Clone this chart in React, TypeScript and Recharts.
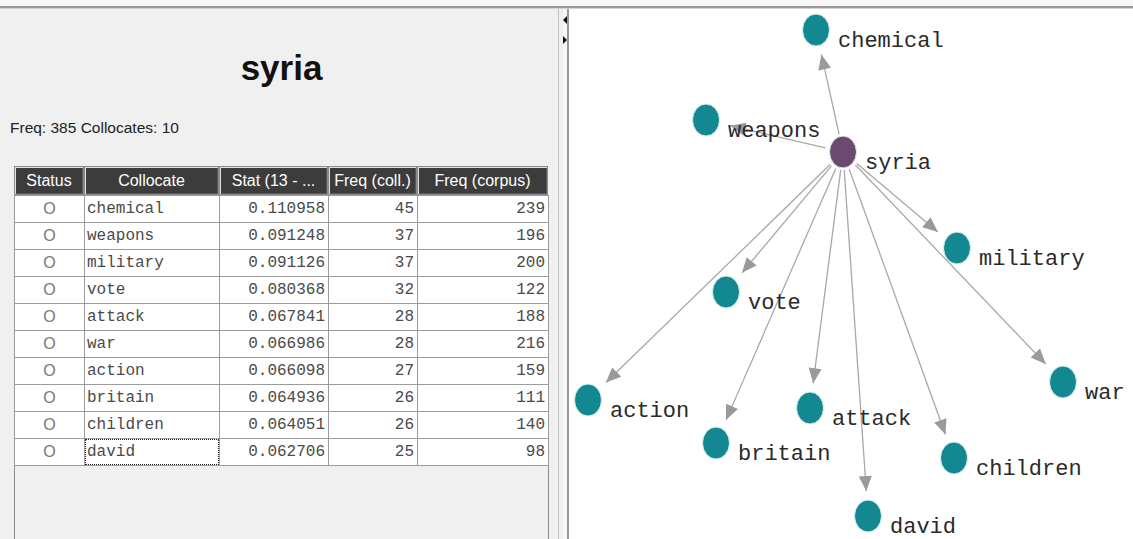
import React from 'react';
import { ScatterChart, Scatter, XAxis, YAxis } from 'recharts';

// ---------- table data ----------
const collocates = ['chemical', 'weapons', 'military', 'vote', 'attack', 'war', 'action', 'britain', 'children', 'david'];
const statValues = [0.110958, 0.091248, 0.091126, 0.080368, 0.067841, 0.066986, 0.066098, 0.064936, 0.064051, 0.062706];
const freqColl = [45, 37, 37, 32, 28, 28, 27, 26, 26, 25];
const freqCorpus = [239, 196, 200, 122, 188, 216, 159, 111, 140, 98];
const headers = ['Status', 'Collocate', 'Stat (13 - ...', 'Freq (coll.)', 'Freq (corpus)'];
const nodeWord = 'syria';
const wordFreq = 385;

// ---------- network layout data (graph coordinates) ----------
const hubX = 274;
const hubY = 143;
const nodeX = [247, 137, 388, 157, 241, 494, 19, 147, 385, 299];
const nodeY = [21, 111, 239, 283, 399, 373, 391, 434, 449, 507];

// ---------- styles ----------
const colEdges = [14, 84, 219, 328, 417, 548];
const headerTop = 166;
const headerH = 29;
const rowTop = 195;
const rowH = 27;
const TEAL = '#138891';
const PURPLE = '#6c4a70';
const monoFont = '"Courier New", "Liberation Mono", monospace';
const sansFont = '"Liberation Sans", Arial, sans-serif';

const W = 564;
const H = 530;

const nodes = [
  { name: nodeWord, x: hubX, y: hubY, hub: true },
  ...collocates.map((c, i) => ({ name: c, x: nodeX[i], y: nodeY[i], hub: false })),
];

const START_OFF = 18;
const TIP_OFF = 25;
const edges = collocates.map((c, i) => {
  const dx = nodeX[i] - hubX;
  const dy = nodeY[i] - hubY;
  const len = Math.sqrt(dx * dx + dy * dy);
  const ux = dx / len;
  const uy = dy / len;
  return {
    name: c,
    start: { x: hubX + ux * START_OFF, y: hubY + uy * START_OFF },
    tip: { x: nodeX[i] - ux * TIP_OFF, y: nodeY[i] - uy * TIP_OFF, angle: (Math.atan2(dy, dx) * 180) / Math.PI },
  };
});
const tips = edges.map((e) => e.tip);

const EmptyShape = () => <g />;

const ArrowShape = (props: any) => {
  const { cx, cy, payload } = props;
  return (
    <polygon
      points="0,0 -15,-6.5 -15,6.5"
      fill="#9a9a9a"
      transform={`translate(${cx},${cy}) rotate(${payload.angle})`}
    />
  );
};

const NodeShape = (props: any) => {
  const { cx, cy, payload } = props;
  return (
    <ellipse cx={cx} cy={cy} rx={13.5} ry={16} fill={payload.hub ? PURPLE : TEAL} stroke="#d6f2f4" strokeWidth={1} />
  );
};

const LabelShape = (props: any) => {
  const { cx, cy, payload } = props;
  return (
    <text x={cx + 22} y={cy + 17} fontFamily={monoFont} fontSize={22} fill="#2a2a2a">
      {payload.name}
    </text>
  );
};

function Network() {
  return (
    <ScatterChart width={W} height={H} margin={{ top: 0, right: 0, bottom: 0, left: 0 }}>
      <XAxis type="number" dataKey="x" domain={[0, W]} allowDataOverflow hide />
      <YAxis type="number" dataKey="y" domain={[0, H]} allowDataOverflow reversed hide />
      {edges.map((e) => (
        <Scatter
          key={`edge-${e.name}`}
          data={[e.start, e.tip]}
          line={{ stroke: '#a8a8a8', strokeWidth: 1.3 }}
          shape={EmptyShape}
          isAnimationActive={false}
          legendType="none"
        />
      ))}
      <Scatter data={tips} shape={ArrowShape} isAnimationActive={false} legendType="none" />
      <Scatter data={nodes} shape={NodeShape} isAnimationActive={false} legendType="none" />
      <Scatter data={nodes} shape={LabelShape} isAnimationActive={false} legendType="none" />
    </ScatterChart>
  );
}

function Table() {
  const cells: React.ReactNode[] = [];
  headers.forEach((h, c) => {
    cells.push(
      <div
        key={`h${c}`}
        style={{
          position: 'absolute',
          left: colEdges[c],
          top: headerTop,
          width: colEdges[c + 1] - colEdges[c],
          height: headerH,
          boxSizing: 'border-box',
          background: '#3c3c3c',
          border: '1px solid #8a8a8a',
          boxShadow: 'inset 1px 1px 0 #e0e0e0, inset -1px -1px 0 #5a5a5a',
          color: '#ffffff',
          fontFamily: sansFont,
          fontSize: 16,
          lineHeight: `${headerH - 2}px`,
          textAlign: 'center',
          whiteSpace: 'nowrap',
          overflow: 'hidden',
        }}
      >
        {h}
      </div>
    );
  });
  collocates.forEach((c, r) => {
    const top = rowTop + r * rowH;
    const vals: string[] = ['O', c, statValues[r].toFixed(6), String(freqColl[r]), String(freqCorpus[r])];
    vals.forEach((v, k) => {
      const isFocus = r === collocates.length - 1 && k === 1;
      cells.push(
        <div
          key={`r${r}c${k}`}
          style={{
            position: 'absolute',
            left: colEdges[k],
            top,
            width: colEdges[k + 1] - colEdges[k] + 1,
            height: rowH + 1,
            boxSizing: 'border-box',
            background: '#ffffff',
            border: '1px solid #9c9c9c',
            color: k === 0 ? '#777' : '#4a4a4a',
            fontFamily: k === 0 ? sansFont : monoFont,
            fontSize: 16,
            lineHeight: `${rowH - 1}px`,
            textAlign: k === 0 ? 'center' : k === 1 ? 'left' : 'right',
            paddingLeft: k === 1 ? 2 : 0,
            paddingRight: k >= 2 ? 3 : 0,
            whiteSpace: 'nowrap',
            outline: isFocus ? '1px dotted #222' : 'none',
            outlineOffset: isFocus ? -2 : 0,
          }}
        >
          {v}
        </div>
      );
    });
  });
  return <>{cells}</>;
}

export default function App() {
  const bodyBottom = rowTop + collocates.length * rowH;
  return (
    <div style={{ position: 'absolute', left: 0, top: 0, width: 1133, height: 539, background: '#f7f7f7', overflow: 'hidden' }}>
      {/* top rule */}
      <div style={{ position: 'absolute', left: 0, top: 6, width: 1133, height: 2, background: '#9a9a9a' }} />
      <div style={{ position: 'absolute', left: 0, top: 8, width: 1133, height: 1, background: '#d4d4d4' }} />
      {/* left panel */}
      <div style={{ position: 'absolute', left: 0, top: 9, width: 563, height: 530, background: '#f0f0f0' }} />
      <div style={{ position: 'absolute', left: 558, top: 9, width: 1, height: 530, background: '#c4c4c4' }} />
      {/* splitter */}
      <svg style={{ position: 'absolute', left: 560, top: 9 }} width={8} height={40}>
        <polygon points="3,11 7,7 7,15" fill="#111" />
        <polygon points="7,31 3,27 3,35" fill="#111" />
      </svg>
      <div style={{ position: 'absolute', left: 567, top: 9, width: 2, height: 530, background: '#9a9a9a' }} />
      {/* right panel */}
      <div style={{ position: 'absolute', left: 569, top: 9, width: 564, height: 530, background: '#ffffff' }} />

      {/* title */}
      <div
        style={{
          position: 'absolute',
          left: 0,
          top: 46,
          width: 563,
          textAlign: 'center',
          fontFamily: sansFont,
          fontWeight: 'bold',
          fontSize: 35,
          lineHeight: '44px',
          color: '#111',
        }}
      >
        {nodeWord}
      </div>
      <div
        style={{
          position: 'absolute',
          left: 10,
          top: 118,
          fontFamily: sansFont,
          fontSize: 15.5,
          lineHeight: '20px',
          color: '#222',
          whiteSpace: 'nowrap',
        }}
      >
        {`Freq: ${wordFreq} Collocates: ${collocates.length}`}
      </div>

      {/* table frame */}
      <div
        style={{
          position: 'absolute',
          left: colEdges[0],
          top: bodyBottom,
          width: colEdges[5] - colEdges[0] + 1,
          height: 539 - bodyBottom,
          boxSizing: 'border-box',
          borderLeft: '1px solid #8c8c8c',
          borderRight: '1px solid #8c8c8c',
          background: '#f0f0f0',
        }}
      />
      <Table />

      <div style={{ position: 'absolute', left: 569, top: 9 }}>
        <Network />
      </div>
    </div>
  );
}
